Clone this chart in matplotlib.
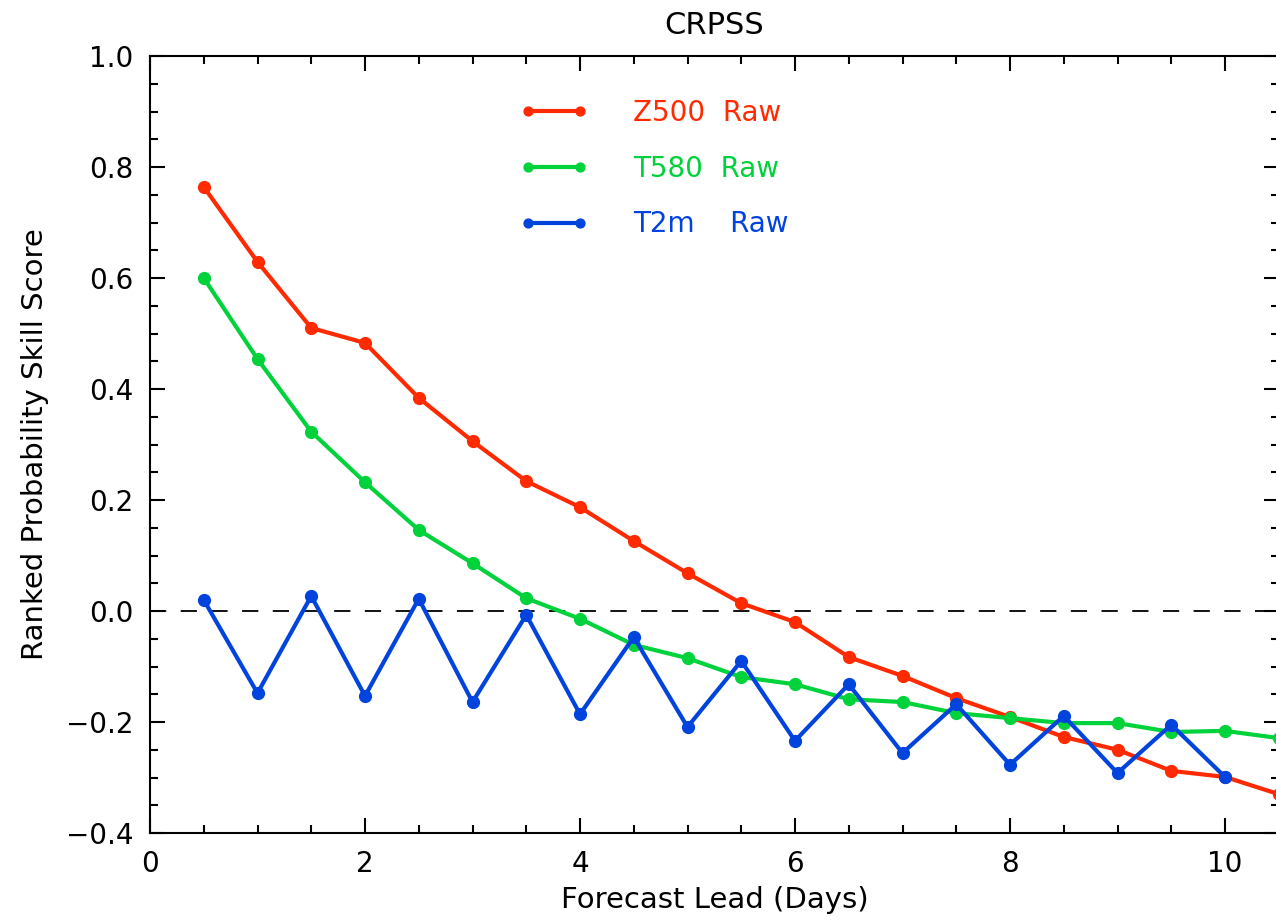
import numpy as np
import matplotlib
matplotlib.use("Agg")
import matplotlib.pyplot as plt
from matplotlib.ticker import MultipleLocator

# forecast lead in days
lead = [0.5, 1.0, 1.5, 2.0, 2.5, 3.0, 3.5, 4.0, 4.5, 5.0, 5.5,
        6.0, 6.5, 7.0, 7.5, 8.0, 8.5, 9.0, 9.5, 10.0, 10.5]

z500_raw = [0.764, 0.629, 0.510, 0.483, 0.384, 0.306, 0.234, 0.187, 0.126, 0.068, 0.014,
            -0.020, -0.083, -0.117, -0.157, -0.191, -0.227, -0.250, -0.288, -0.299, -0.330]
t580_raw = [0.600, 0.454, 0.323, 0.232, 0.146, 0.086, 0.023, -0.014, -0.061, -0.085, -0.119,
            -0.132, -0.159, -0.164, -0.184, -0.193, -0.202, -0.202, -0.218, -0.216, -0.229]
t2m_raw = [0.020, -0.148, 0.027, -0.153, 0.022, -0.164, -0.007, -0.186, -0.047, -0.209, -0.090,
           -0.234, -0.132, -0.256, -0.168, -0.277, -0.189, -0.292, -0.205, -0.299]

series = [
    ("Z500  Raw", z500_raw, "#ff2a00"),
    ("T580  Raw", t580_raw, "#00d23c"),
    ("T2m    Raw", t2m_raw, "#0044dd"),
]

plt.rcParams['font.family'] = ['DejaVu Sans']

fig = plt.figure(figsize=(12.76, 9.23), dpi=100)
ax = fig.add_axes([150 / 1276, 90 / 923, 1128.75 / 1276, 777 / 923])

ax.axhline(0.0, color="black", lw=1.3, dashes=(9, 8))

handles = []
for name, vals, col in series:
    h, = ax.plot(lead[:len(vals)], vals, color=col, lw=3, marker="o", ms=8.5,
                 label=name, clip_on=True)
    handles.append(h)

ax.set_xlim(0, 10.5)
ax.set_ylim(-0.4, 1.0)
ax.xaxis.set_major_locator(MultipleLocator(2))
ax.xaxis.set_minor_locator(MultipleLocator(0.5))
ax.yaxis.set_major_locator(MultipleLocator(0.2))
ax.yaxis.set_minor_locator(MultipleLocator(0.05))
ax.tick_params(which="both", direction="in", top=True, right=True, width=1.5,
               labelsize=20, pad=12)
ax.tick_params(which="major", length=11)
ax.tick_params(which="minor", length=5.5)
for s in ax.spines.values():
    s.set_linewidth(1.5)

ax.set_xticks([0, 2, 4, 6, 8, 10])
ax.set_xticklabels(["0", "2", "4", "6", "8", "10"])
ax.set_yticklabels([f"{v:.1f}".replace("-", "\u2212") for v in ax.get_yticks()])

ax.set_title("CRPSS", fontsize=22, pad=16)
ax.set_xlabel("Forecast Lead (Days)", fontsize=21, labelpad=6)
ax.set_ylabel("Ranked Probability Skill Score", fontsize=21, labelpad=12)

leg = ax.legend(handles=handles, loc="upper left", bbox_to_anchor=(0.305, 0.977),
                frameon=False, numpoints=2, handlelength=2.5, handletextpad=1.6,
                labelspacing=1.0, fontsize=20, markerscale=0.75,
                labelcolor="linecolor")
for line in leg.get_lines():
    line.set_linewidth(3)

fig.savefig("out.png", dpi=100)
